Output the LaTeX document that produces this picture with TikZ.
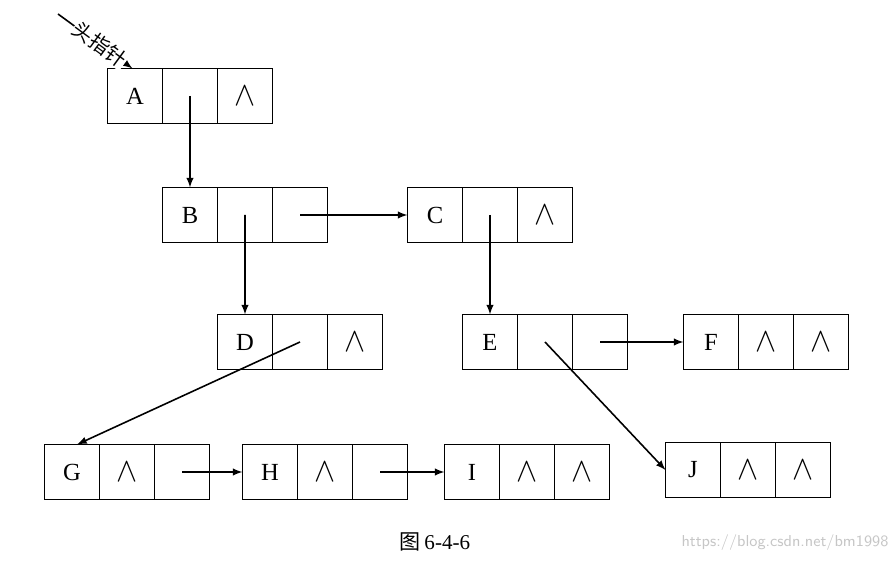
\documentclass[tikz,border=0pt]{standalone}
\usepackage{fontspec}
\setmainfont{Liberation Serif}
\newfontfamily\cjk{Noto Sans CJK SC}
\usetikzlibrary{positioning,arrows}
\tikzset{
  cell/.style={rectangle, draw=black, line width=1pt, minimum size=1.1cm, outer sep=0pt, inner sep=0pt, text centered, font=\fontsize{14}{16}\selectfont},
  lk/.style={->, >=latex, line width=0.9pt},
  node distance=0pt
}
% one list node: name, position, data, left link, right link
\newcommand{\lnode}[5]{%
  \node[cell] (#1) at (#2) {#3};
  \node[cell, right=of #1] (#11) {#4};
  \node[cell, right=of #11] (#12) {#5};
}
\newcommand{\nil}{\scalebox{1.25}[1.35]{$\wedge$}}

\begin{document}
\begin{tikzpicture}
	\useasboundingbox (0,0) rectangle (17.86,-11.24);
	\lnode{A}{2.7,-1.92}{A}{}{\nil}
	\lnode{B}{3.8,-4.3}{B}{}{}
	\lnode{C}{8.7,-4.3}{C}{}{\nil}
	\lnode{D}{4.9,-6.84}{D}{}{\nil}
	\lnode{E}{9.8,-6.84}{E}{}{}
	\lnode{F}{14.22,-6.84}{F}{\nil}{\nil}
	\lnode{G}{1.44,-9.44}{G}{\nil}{}
	\lnode{H}{5.4,-9.44}{H}{\nil}{}
	\lnode{I}{9.44,-9.44}{I}{\nil}{\nil}
	\lnode{J}{13.86,-9.4}{J}{\nil}{\nil}
	%
	\coordinate (hp) at (1.16,-0.28);
	\draw[lk] (hp) -- node[sloped, fill=white, inner sep=0.5pt, pos=0.56, font=\cjk\fontsize{11.5}{12}\selectfont] {头指针} ([xshift=0.5cm]A.north west);
	\draw[lk] (A1.center) -- (B.north);
	\draw[lk] (B1.center) -- (D.north);
	\draw[lk] (B2.center) -- (C.west);
	\draw[lk] (C1.center) -- (E.north);
	\draw[lk] (D1.center) -- ([xshift=0.1cm]G.north);
	\draw[lk] (E1.center) -- (J.west);
	\draw[lk] (E2.center) -- (F.west);
	\draw[lk] (G2.center) -- (H.west);
	\draw[lk] (H2.center) -- (I.west);
	%
	\node[font=\fontsize{12}{14}\selectfont] (cap) at (8.7,-10.84) {{\cjk 图}\,6-4-6};
	\node[font=\sffamily\fontsize{9}{11}\selectfont, text=gray!45] (wm) at (15.7,-10.86) {https://blog.csdn.net/bm1998};
\end{tikzpicture}
\end{document}
